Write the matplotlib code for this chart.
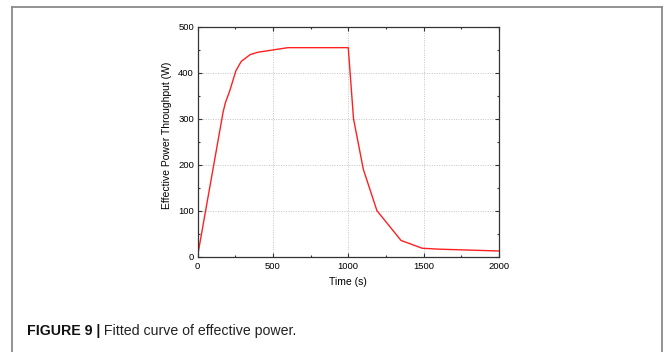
import matplotlib.pyplot as plt
from matplotlib.ticker import MultipleLocator

# values
time_s = [0, 170, 185, 215, 255, 290, 350, 400, 600, 1000, 1035, 1100, 1190, 1350, 1490, 1600, 2000]
power_w = [0, 315, 335, 362, 405, 425, 440, 445, 455, 455, 300, 190, 100, 35, 18, 16, 12]
x_ticks = [0, 500, 1000, 1500, 2000]
y_ticks = [0, 100, 200, 300, 400, 500]
caption_bold = "FIGURE 9 |"
caption_text = " Fitted curve of effective power."

plt.rcParams["font.family"] = ["Liberation Sans", "DejaVu Sans"]

fig = plt.figure(figsize=(6.64, 3.52), dpi=100)
W, H = 664, 352

# page frame (top, left, right)
fig.add_artist(plt.Line2D([11.5 / W, 661.5 / W], [1 - 6.5 / H, 1 - 6.5 / H], color="#8a8a8a", lw=1.3))
fig.add_artist(plt.Line2D([11.5 / W, 11.5 / W], [0, 1 - 6.5 / H], color="#8a8a8a", lw=1.3))
fig.add_artist(plt.Line2D([661.5 / W, 661.5 / W], [0, 1 - 6.5 / H], color="#8a8a8a", lw=1.3))

ax = fig.add_axes([197.5 / W, 1 - 256.5 / H, 301.5 / W, 229.5 / H])
ax.plot(time_s, power_w, color="#ff2020", lw=1.0)

ax.set_xlim(0, 2000)
ax.set_ylim(0, 500)
ax.set_xticks(x_ticks)
ax.set_yticks(y_ticks)
ax.xaxis.set_minor_locator(MultipleLocator(250))
ax.yaxis.set_minor_locator(MultipleLocator(50))
ax.tick_params(which="both", direction="in", top=True, right=True, color="#333333",
               labelsize=6.8, width=0.8)
ax.tick_params(axis="x", pad=4)
ax.tick_params(axis="y", pad=2.5)
ax.tick_params(which="major", length=3)
ax.tick_params(which="minor", length=1.5)
ax.grid(True, which="major", color="#c4c4c4", ls=(0, (1, 1.5)), lw=0.7)
for s in ax.spines.values():
    s.set_color("#333333")
    s.set_linewidth(0.9)

ax.set_xlabel("Time (s)", fontsize=7.5, labelpad=4)
ax.set_ylabel("Effective Power Throughput (W)", fontsize=7.5)
ax.yaxis.set_label_coords(-0.083, 0.53)

# caption
t1 = fig.text(27 / W, 1 - 331 / H, caption_bold, fontsize=10.2, fontweight="bold",
              va="center", ha="left", color="#111111")
fig.canvas.draw()
bb = t1.get_window_extent()
fig.text(bb.x1 / fig.bbox.width, 1 - 331 / H, caption_text, fontsize=10.2,
         va="center", ha="left", color="#222222")

fig.savefig("out.png", dpi=100)
